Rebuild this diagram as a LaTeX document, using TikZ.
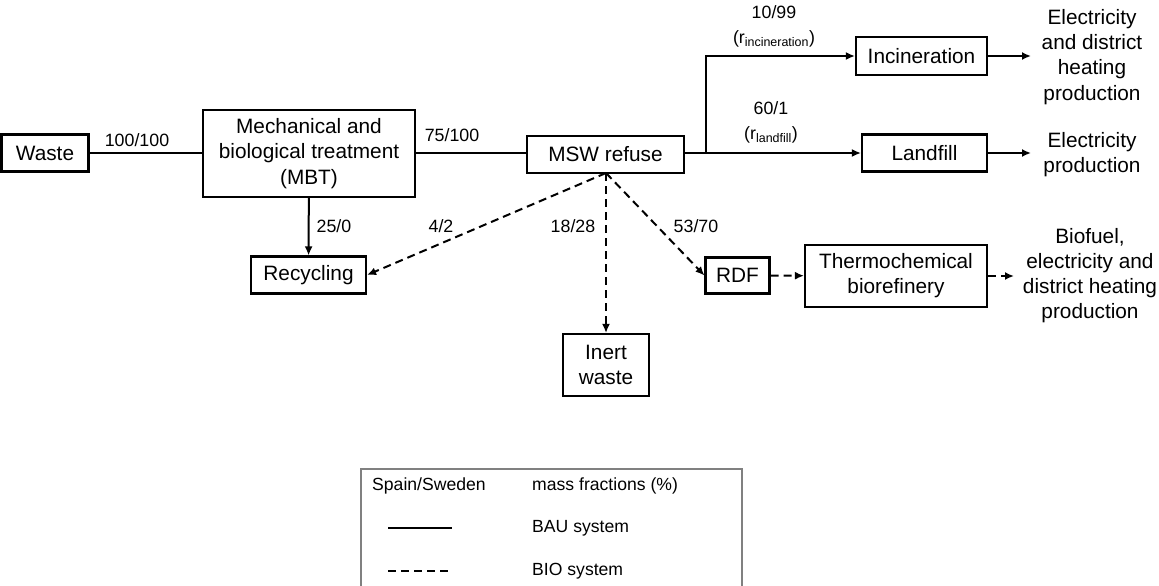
\documentclass[tikz,border=0pt]{standalone}
\usepackage{fontspec}
\setmainfont{Liberation Sans}
\usepackage{tikz}
\usetikzlibrary{arrows.meta}

\begin{document}
\begin{tikzpicture}[x=1pt, y=-1pt,
    box/.style={draw, line width=2.1pt, rectangle, inner sep=0pt, align=center, font=\fontsize{20.8}{25.2}\selectfont},
    outtext/.style={align=center, inner sep=0pt, font=\fontsize{20.8}{25.2}\selectfont},
    flow/.style={line width=2pt},
    bio/.style={line width=2pt, dash pattern=on 8pt off 5pt},
    lbl/.style={inner sep=0pt, font=\fontsize{17.8}{25}\selectfont, align=center},
    legtext/.style={inner sep=0pt, anchor=west, font=\fontsize{17.6}{20}\selectfont},
    >={Latex[length=9pt, width=8pt]}]
            \clip (0,0) rectangle (1159,586);
            \node[box, minimum width=87pt, minimum height=37pt] (waste) at (45,153) {Waste};
            \node[box, minimum width=212pt, minimum height=87pt] (mbt) at (309,153.5) {Mechanical and\\biological treatment\\(MBT)};
            \node[box, minimum width=115pt, minimum height=37pt] (recycling) at (308.5,275) {Recycling};
            \node[box, minimum width=157pt, minimum height=37pt] (msw) at (605.5,154.5) {MSW refuse};
            \node[box, minimum width=131pt, minimum height=38pt] (incin) at (921.5,56) {Incineration};
            \node[box, minimum width=125pt, minimum height=37pt] (landfill) at (924.5,153) {Landfill};
            \node[box, minimum width=64pt, minimum height=36pt] (rdf) at (737.5,275.5) {RDF};
            \node[box, minimum width=182pt, minimum height=62pt] (thermo) at (896,276) {Thermochemical\\biorefinery};
            \node[box, minimum width=86pt, minimum height=62pt] (inert) at (606,365) {Inert\\waste};
            
            \node[outtext] (elecheat) at (1092,57) {Electricity\\and district\\heating\\production};
            \node[outtext] (elec) at (1092,154.5) {Electricity\\production};
            \node[outtext] (biofuel) at (1090,275.5) {Biofuel,\\electricity and\\district heating\\production};
            
            \coordinate (split) at (706,153);
            \coordinate (mswout) at (606,173);
            \coordinate (incend) at (1031,56);
            \coordinate (lfend) at (1031,153);
            \coordinate (bioend) at (1014,276);
            
            % BAU flows
            \draw[flow] (waste) -- (mbt.west |- waste);
            \draw[flow] (mbt.east |- waste) -- (msw.west |- waste);
            \draw[flow, ->] (mbt) -- (recycling);
            \draw[flow] (msw.east |- split) -- (split);
            \draw[flow, ->] (split) |- (incin.west);
            \draw[flow, ->] (split) -- (landfill.west |- split);
            \draw[flow, ->] (incin.east) -- (incend);
            \draw[flow, ->] (landfill.east) -- (lfend);
            
            % BIO flows
            \draw[bio, ->] (mswout) -- (recycling.east);
            \draw[bio, ->] (mswout) -- (inert.north);
            \draw[bio, ->] (mswout) -- (rdf.west);
            \draw[bio, ->] (rdf) -- (thermo);
            \draw[bio, ->] (thermo.east) -- (bioend);
            
            \node[lbl] (l1) at (137,140) {100/100};
            \node[lbl] (l2) at (452,135) {75/100};
            \node[lbl] (l3) at (334,226) {25/0};
            \node[lbl] (l4) at (441,226) {4/2};
            \node[lbl] (l5) at (573,226) {18/28};
            \node[lbl] (l6) at (696,226) {53/70};
            \node[lbl] (l7) at (774,26) {10/99\\(r\textsubscript{incineration})};
            \node[lbl] (l8) at (771,122) {60/1\\(r\textsubscript{landfill})};
            
            % legend
            \node[draw=gray, line width=2pt, minimum width=381pt, minimum height=160pt, inner sep=0pt] (legend) at (551.5,549) {};
            \node[legtext] (leg1) at (372,486) {Spain/Sweden};
            \node[legtext] (leg2) at (532,486) {mass fractions (\%)};
            \coordinate (bauA) at (388,528);
            \coordinate (bauB) at (452,528);
            \coordinate (bioA) at (388,571);
            \coordinate (bioB) at (452,571);
            \draw[flow] (bauA) -- (bauB);
            \draw[bio] (bioA) -- (bioB);
            \node[legtext] (leg3) at (532,528) {BAU system};
            \node[legtext] (leg4) at (532,571) {BIO system};
        \end{tikzpicture}
\end{document}
